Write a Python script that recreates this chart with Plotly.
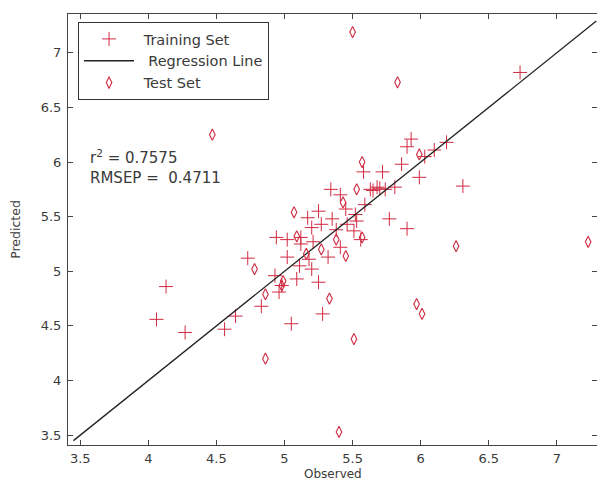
import plotly.graph_objects as go

# Training set (observed, predicted)
train_obs = [6.73, 5.93, 5.90, 6.19, 6.10, 6.03, 5.86, 5.72, 5.58, 5.99, 6.31, 5.34, 5.63, 5.68,
             5.74, 5.81, 5.77, 5.90, 5.45, 5.25, 5.17, 5.35, 5.27, 5.20, 4.94, 5.02, 5.12, 5.21,
             5.32, 5.18, 5.11, 5.09, 5.25, 5.28, 5.05, 4.93, 4.98, 4.96, 4.83, 4.64, 4.56, 4.27,
             4.06, 4.13, 4.73, 5.38, 5.46, 5.51, 5.41, 5.53, 5.59, 5.52, 5.12, 5.02, 5.20, 5.41,
             5.56, 5.65, 5.70]
train_pred = [6.82, 6.21, 6.14, 6.18, 6.11, 6.05, 5.98, 5.91, 5.91, 5.86, 5.78, 5.75, 5.75, 5.77,
              5.75, 5.77, 5.48, 5.39, 5.57, 5.55, 5.49, 5.48, 5.43, 5.40, 5.31, 5.29, 5.25, 5.27,
              5.13, 5.11, 5.05, 4.93, 4.90, 4.61, 4.52, 4.96, 4.87, 4.81, 4.68, 4.59, 4.47, 4.44,
              4.56, 4.86, 5.12, 5.38, 5.43, 5.37, 5.22, 5.46, 5.61, 5.52, 5.31, 5.13, 5.02, 5.70,
              5.29, 5.74, 5.76]

# Test set (observed, predicted)
test_obs = [5.50, 5.83, 4.47, 5.99, 5.57, 5.53, 5.43, 5.07, 5.09, 5.38, 5.57, 5.45, 4.78, 4.86,
            4.98, 5.33, 5.97, 6.01, 5.51, 4.86, 5.40, 6.26, 7.23, 5.16, 5.27, 4.99]
test_pred = [7.19, 6.73, 6.25, 6.07, 6.00, 5.75, 5.63, 5.54, 5.32, 5.29, 5.31, 5.14, 5.02, 4.79,
             4.87, 4.75, 4.70, 4.61, 4.38, 4.20, 3.53, 5.23, 5.27, 5.16, 5.20, 4.91]

# Regression line endpoints
reg_x = [3.45, 7.29]
reg_y = [3.45, 7.29]

x_ticks = [3.5, 4, 4.5, 5, 5.5, 6, 6.5, 7]
y_ticks = [3.5, 4, 4.5, 5, 5.5, 6, 6.5, 7]

stats_text = "r<sup>2</sup> = 0.7575<br>RMSEP =  0.4711"
x_title = "Observed"
y_title = "Predicted"

NB = "\u00a0"
RED = "#d02a40"
FONT = "DejaVu Sans, Verdana, sans-serif"
TXT = "#3a3a3a"

fig = go.Figure()
fig.add_trace(go.Scatter(
    x=train_obs, y=train_pred, mode="markers", name=NB + "Training Set",
    marker=dict(symbol="cross-thin-open", size=10, color=RED,
                line=dict(color=RED, width=1)),
))
fig.add_trace(go.Scatter(
    x=reg_x, y=reg_y, mode="lines", name=NB * 2 + "Regression Line",
    line=dict(color="#222222", width=1.3),
))
fig.add_trace(go.Scatter(
    x=test_obs, y=test_pred, mode="markers", name=NB + "Test Set",
    marker=dict(symbol="diamond-tall-open", size=8, color=RED,
                line=dict(color=RED, width=1.1)),
))

axis_common = dict(
    showgrid=False, zeroline=False, showline=True, linecolor="#444444", linewidth=1,
    mirror="ticks", ticks="inside", ticklen=5, tickcolor="#444444",
    tickfont=dict(family=FONT, size=13, color=TXT),
    automargin=False,
)

fig.update_layout(
    width=589, height=474,
    margin=dict(l=60, r=0, t=6, b=37),
    paper_bgcolor="white", plot_bgcolor="white",
    font=dict(family=FONT, color=TXT),
    showlegend=True,
    legend=dict(
        x=0.019, y=0.9815, xanchor="left", yanchor="top",
        bgcolor="white", bordercolor="#333333", borderwidth=1,
        font=dict(family=FONT, size=14.5, color=TXT),
        itemwidth=50, tracegroupgap=0,
    ),
    xaxis=dict(range=[3.41, 7.295], tickvals=x_ticks, ticktext=[str(v) for v in x_ticks],
               ticklabelstandoff=1,
               **axis_common),
    yaxis=dict(range=[3.41, 7.355], tickvals=y_ticks, ticktext=[str(v) for v in y_ticks],
               ticklabelstandoff=3,
               title=dict(text=y_title, font=dict(family=FONT, size=12.5, color=TXT),
                          standoff=28),
               **axis_common),
    annotations=[
        dict(
            x=3.555, y=5.955, xref="x", yref="y", xanchor="left", yanchor="middle",
            text=stats_text, showarrow=False, align="left",
            font=dict(family=FONT, size=15, color=TXT),
        ),
        dict(
            x=0.5, y=0, xref="paper", yref="paper", xanchor="center", yanchor="middle",
            yshift=-29, text=x_title, showarrow=False,
            font=dict(family=FONT, size=12, color=TXT),
        ),
    ],
)

fig.write_html("out.html")
